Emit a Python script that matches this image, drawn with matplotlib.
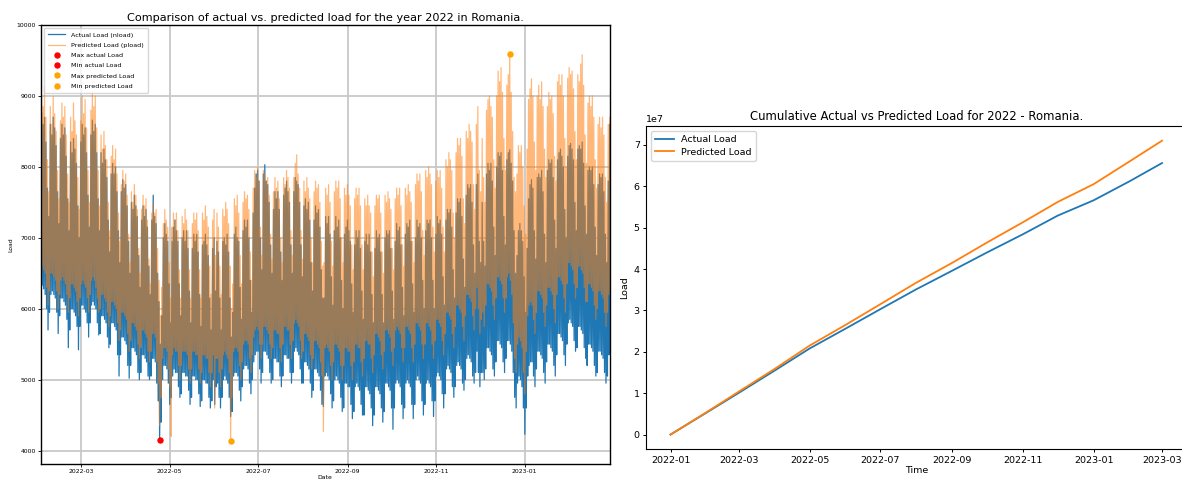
import numpy as np
import pandas as pd
import matplotlib
matplotlib.use("Agg")
import matplotlib.pyplot as plt
import matplotlib.dates as mdates

# Daily night minimum and evening maximum of the hourly load (MW),
# one row per week (Mon..Sun), first row starting on 2022-01-24.
first_day = "2022-01-24"

actual_high = [
    8850, 9050, 8900, 8950, 8650, 7900, 7500,
    8550, 8760, 8600, 8700, 8350, 7700, 7300,
    8600, 8450, 8700, 8550, 8300, 7650, 7200,
    8400, 8600, 8450, 8550, 8150, 7550, 7100,
    8350, 8200, 8400, 8250, 8050, 7450, 7000,
    8350, 8600, 8450, 8550, 8200, 7600, 7150,
    8450, 8660, 8500, 8600, 8200, 7550, 7100,
    8200, 8050, 8250, 8100, 7850, 7250, 6800,
    7900, 8050, 7900, 8000, 7650, 7100, 6650,
    7650, 7820, 7700, 7750, 7450, 6950, 6500,
    7500, 7400, 7600, 7450, 7300, 6750, 6300,
    7250, 7450, 7300, 7400, 7150, 6600, 6200,
    7250, 7600, 7300, 7200, 6500, 6100, 5500,
    5900, 7000, 7200, 7050, 6950, 6350, 5800,
    6950, 7150, 7250, 7100, 6950, 6350, 5900,
    7000, 7100, 6950, 7100, 6850, 6250, 5800,
    6850, 7050, 6950, 7050, 6800, 6200, 5750,
    6900, 6950, 7050, 6900, 6750, 6150, 5700,
    6850, 7000, 6250, 6950, 6800, 6150, 5700,
    6950, 7000, 6900, 7050, 6800, 6150, 5600,
    5950, 7050, 7150, 7000, 6950, 6300, 5850,
    7100, 7250, 7150, 7250, 7000, 6400, 5950,
    7350, 7700, 7900, 7950, 7800, 7000, 6550,
    7900, 8030, 7800, 7750, 7500, 6900, 6500,
    7400, 7650, 7550, 7650, 7400, 6800, 6400,
    7600, 7700, 7800, 7650, 7500, 6900, 6500,
    7650, 7850, 7800, 7750, 7500, 6900, 6450,
    7450, 7550, 7400, 7500, 7250, 6650, 6250,
    7250, 7450, 7350, 7400, 7150, 6550, 6150,
    6150, 7300, 7200, 7300, 7050, 6450, 6050,
    7100, 7300, 7150, 7250, 7000, 6400, 6000,
    7050, 7150, 7250, 7100, 6950, 6350, 5950,
    6900, 7100, 7000, 7100, 6850, 6250, 5850,
    6950, 7050, 6900, 7050, 6800, 6200, 5800,
    6850, 7100, 7000, 7050, 6800, 6200, 5800,
    7000, 7100, 7050, 7100, 6850, 6250, 5850,
    6950, 7200, 7100, 7150, 6900, 6300, 5900,
    7050, 7200, 7150, 7250, 6950, 6350, 5950,
    7000, 7250, 7150, 7200, 7000, 6400, 6000,
    7100, 7250, 7200, 7250, 7000, 6400, 6000,
    7050, 7300, 7200, 7250, 7050, 6450, 6050,
    7250, 7400, 7350, 7400, 7150, 6550, 6150,
    7350, 7550, 7500, 7550, 7300, 6700, 6300,
    7600, 7750, 7700, 7750, 7500, 6900, 6500,
    7750, 7900, 6950, 6650, 7500, 6950, 6600,
    7900, 8050, 7950, 8050, 7800, 7150, 6750,
    8000, 8200, 8150, 8200, 7950, 7300, 6900,
    8100, 8200, 8240, 8050, 7800, 7100, 6500,
    6750, 7100, 7200, 7100, 6950, 6450, 5950,
    6850, 7550, 7750, 7820, 7700, 7100, 6700,
    7850, 7900, 7850, 7950, 7650, 7050, 6650,
    7950, 8100, 8050, 8100, 7850, 7250, 6850,
    8100, 8200, 8250, 8150, 8000, 7400, 7000,
    8150, 8300, 8330, 8250, 8100, 7500, 7100,
    8250, 8300, 8250, 8350, 8050, 7450, 7050,
    7950, 8000, 7950, 8000, 7750, 7150, 6750,
    7750, 7900, 7850, 7900, 7650, 7050, 6650,
    7800, 8600, 7900,
]

actual_low = [
    6150, 6400, 6450, 6400, 6350, 6150, 5800,
    6050, 6300, 6330, 6280, 6200, 6000, 5700,
    5950, 6200, 6250, 6200, 6150, 5950, 5650,
    5900, 6150, 6150, 6100, 6050, 5850, 5450,
    5700, 6000, 6000, 5950, 5900, 5750, 5420,
    5750, 6050, 6050, 6000, 5950, 5800, 5600,
    5800, 6050, 6100, 6050, 6000, 5800, 5630,
    5650, 5900, 5900, 5850, 5800, 5600, 5450,
    5500, 5800, 5800, 5750, 5700, 5350, 5050,
    5350, 5600, 5600, 5550, 5500, 5200, 5020,
    5200, 5450, 5450, 5400, 5350, 5100, 5000,
    5100, 5350, 5350, 5300, 5250, 5050, 5000,
    5050, 5300, 5300, 5250, 4950, 4700, 4150,
    4400, 5000, 5200, 5200, 5150, 4950, 4650,
    4750, 5050, 5150, 5100, 5100, 4900, 4750,
    4800, 5100, 5100, 5050, 5050, 4850, 4650,
    4750, 5050, 5050, 5000, 5000, 4800, 4620,
    4700, 5000, 5000, 4950, 4950, 4750, 4600,
    4700, 5000, 4650, 4900, 4950, 4750, 4600,
    4750, 5000, 5050, 5000, 4950, 4750, 4480,
    4550, 5050, 5100, 5100, 5050, 4850, 4700,
    4900, 5150, 5200, 5200, 5150, 4950, 4800,
    5000, 5250, 5350, 5400, 5400, 5150, 4950,
    5100, 5400, 5400, 5350, 5300, 5100, 4950,
    5000, 5300, 5300, 5250, 5250, 5050, 4900,
    5050, 5350, 5350, 5300, 5300, 5100, 4950,
    5100, 5400, 5450, 5400, 5350, 5150, 4950,
    4950, 5250, 5250, 5200, 5150, 4950, 4750,
    4850, 5150, 5150, 5100, 5050, 4850, 4650,
    4620, 5050, 5100, 5050, 5000, 4800, 4600,
    4700, 5000, 5050, 5000, 4950, 4750, 4550,
    4600, 4950, 4950, 4900, 4900, 4650, 4450,
    4550, 4900, 4950, 4900, 4850, 4650, 4500,
    4500, 4900, 4900, 4850, 4800, 4600, 4350,
    4500, 4900, 4900, 4850, 4800, 4600, 4400,
    4550, 4950, 4950, 4900, 4850, 4600, 4300,
    4600, 4950, 5000, 4950, 4900, 4650, 4450,
    4600, 4950, 5000, 4950, 4900, 4650, 4450,
    4650, 5000, 5050, 5000, 4950, 4700, 4500,
    4650, 4950, 5000, 4950, 4900, 4700, 4480,
    4700, 5050, 5100, 5050, 5000, 4800, 4600,
    4800, 5150, 5200, 5150, 5100, 4900, 4750,
    4900, 5200, 5250, 5200, 5150, 4950, 4850,
    5000, 5300, 5350, 5300, 5250, 5050, 4950,
    5100, 5400, 5100, 4900, 5100, 5100, 5000,
    5150, 5450, 5450, 5400, 5350, 5150, 5050,
    5250, 5550, 5550, 5500, 5450, 5250, 5100,
    5300, 5550, 5550, 5500, 5400, 5100, 4750,
    4600, 4950, 5050, 5000, 4900, 4600, 4230,
    4600, 5050, 5200, 5250, 5250, 5050, 4900,
    5150, 5400, 5400, 5350, 5300, 5100, 4950,
    5250, 5500, 5500, 5450, 5400, 5200, 5050,
    5350, 5650, 5650, 5600, 5550, 5350, 5200,
    5500, 5800, 5850, 5800, 5750, 5550, 5400,
    5450, 5750, 5750, 5700, 5650, 5450, 5300,
    5200, 5500, 5500, 5450, 5400, 5200, 5050,
    5100, 5400, 5400, 5350, 5300, 5100, 4950,
    5050, 5350, 5350,
]

pred_high = [
    9000, 9150, 8950, 9100, 8800, 8200, 7750,
    8800, 9000, 8850, 9120, 8700, 8100, 7650,
    8850, 8600, 8990, 8750, 8500, 7950, 7550,
    8650, 8900, 8700, 8850, 8450, 7900, 7500,
    8700, 8500, 8900, 8650, 8450, 7850, 7400,
    8650, 9000, 8750, 8950, 8550, 7950, 7500,
    8800, 9060, 8850, 9000, 8550, 7950, 7450,
    8450, 8250, 8500, 8300, 8100, 7500, 7100,
    8150, 8300, 8100, 8250, 7900, 7350, 6950,
    7750, 7950, 7800, 7900, 7600, 7050, 6650,
    7650, 7500, 7750, 7600, 7400, 6850, 6500,
    7400, 7600, 7450, 7550, 7250, 6700, 6350,
    7350, 7500, 7350, 7400, 6850, 6400, 5900,
    6300, 7200, 7400, 7250, 7150, 6650, 6150,
    7150, 7350, 7250, 7350, 7100, 6550, 6150,
    7300, 7200, 7400, 7250, 7100, 6550, 6150,
    7200, 7350, 7250, 7350, 7100, 6550, 6150,
    7350, 7250, 7450, 7300, 7150, 6600, 6200,
    7250, 7400, 6750, 7350, 7150, 6600, 6200,
    7400, 7300, 7500, 7400, 7200, 6600, 6000,
    6350, 7550, 7450, 7600, 7350, 6750, 6350,
    7500, 7650, 7550, 7600, 7400, 6800, 6400,
    7700, 7950, 7850, 7990, 7800, 7150, 6750,
    7950, 7900, 7800, 7850, 7600, 7050, 6700,
    7650, 7850, 7700, 7800, 7550, 7000, 6650,
    7850, 7750, 7950, 7850, 7700, 7100, 6750,
    7850, 8050, 8170, 7900, 7700, 7100, 6700,
    7800, 7650, 7850, 7700, 7550, 7000, 6650,
    7650, 7800, 7700, 7750, 7500, 6950, 6600,
    6650, 7700, 7600, 7750, 7500, 6950, 6600,
    7650, 7800, 7700, 7800, 7550, 7000, 6650,
    7700, 7600, 7750, 7600, 7450, 6900, 6550,
    7550, 7700, 7600, 7700, 7450, 6900, 6550,
    7550, 7450, 7600, 7450, 7350, 6800, 6450,
    7450, 7600, 7550, 7600, 7350, 6800, 6500,
    7600, 7500, 7650, 7550, 7400, 6850, 6550,
    7550, 7700, 7600, 7700, 7450, 6900, 6600,
    7700, 7600, 7750, 7650, 7500, 6950, 6650,
    7750, 7900, 7800, 7900, 7650, 7100, 6750,
    7950, 7850, 8000, 7900, 7750, 7150, 6800,
    7800, 7950, 7850, 7950, 7700, 7150, 6800,
    8100, 8000, 8200, 8100, 7950, 7350, 7000,
    8200, 8400, 8300, 8400, 8150, 7550, 7200,
    8500, 8400, 8600, 8500, 8350, 7750, 7400,
    8600, 8850, 7950, 7650, 8400, 7850, 7500,
    8800, 8950, 9000, 8850, 8700, 8100, 7700,
    9000, 9350, 9200, 9400, 9050, 8400, 7950,
    9150, 9300, 9590, 9050, 8500, 7850, 7650,
    7900, 8300, 8200, 8300, 8000, 7450, 7050,
    8250, 8950, 9100, 9240, 9000, 8350, 7950,
    9000, 9150, 8950, 9200, 8850, 8250, 7850,
    8850, 9050, 8950, 9000, 8750, 8150, 7800,
    9200, 9300, 9150, 9300, 9000, 8400, 8000,
    9250, 9400, 9300, 9350, 9100, 8500, 8100,
    9300, 9200, 9450, 9580, 9150, 8450, 8050,
    8900, 9000, 8850, 9000, 8700, 8100, 7700,
    8600, 8700, 8550, 8700, 8450, 7850, 7500,
    8600, 8700, 8650,
]

pred_low = [
    6400, 6650, 6700, 6650, 6600, 6400, 6100,
    6350, 6550, 6600, 6550, 6500, 6300, 6050,
    6250, 6500, 6500, 6450, 6400, 6250, 6000,
    6200, 6400, 6450, 6400, 6350, 6200, 5950,
    6150, 6350, 6350, 6300, 6250, 6100, 5900,
    6150, 6350, 6400, 6350, 6300, 6150, 5950,
    6200, 6400, 6450, 6400, 6300, 6150, 5950,
    6000, 6200, 6200, 6150, 6100, 5950, 5750,
    5900, 6100, 6100, 6050, 6000, 5800, 5550,
    5700, 5950, 5950, 5900, 5850, 5650, 5400,
    5550, 5800, 5800, 5750, 5700, 5500, 5300,
    5450, 5700, 5700, 5650, 5600, 5400, 5250,
    5400, 5650, 5650, 5600, 5250, 4950, 4350,
    4750, 5300, 5450, 5450, 5400, 5150, 4900,
    4200, 5350, 5450, 5400, 5400, 5200, 5000,
    5200, 5400, 5400, 5400, 5350, 5150, 4950,
    5150, 5400, 5400, 5350, 5350, 5150, 4950,
    5100, 5350, 5350, 5300, 5300, 5100, 4900,
    5100, 5350, 4600, 5300, 5300, 5100, 4900,
    5150, 5350, 5400, 5350, 5300, 5100, 4130,
    4750, 5400, 5450, 5450, 5400, 5200, 5000,
    5250, 5500, 5550, 5550, 5500, 5300, 5100,
    5350, 5600, 5700, 5750, 5700, 5500, 5300,
    5500, 5750, 5750, 5700, 5650, 5500, 5300,
    5450, 5700, 5700, 5650, 5650, 5450, 5250,
    5500, 5750, 5750, 5700, 5700, 5500, 5300,
    5550, 5800, 5850, 5800, 5750, 5550, 5300,
    5400, 5650, 5650, 5600, 5550, 5350, 5150,
    5300, 5550, 5550, 5500, 5450, 5250, 5050,
    4270, 5450, 5500, 5450, 5400, 5200, 5000,
    5250, 5500, 5500, 5450, 5400, 5200, 5000,
    5200, 5450, 5450, 5400, 5400, 5200, 5000,
    5250, 5500, 5500, 5450, 5450, 5250, 5050,
    5300, 5550, 5550, 5500, 5500, 5300, 5100,
    5350, 5650, 5650, 5600, 5550, 5350, 5150,
    5400, 5700, 5700, 5650, 5600, 5400, 5200,
    5450, 5700, 5750, 5700, 5650, 5450, 5250,
    5450, 5750, 5750, 5700, 5650, 5450, 5250,
    5500, 5800, 5800, 5750, 5700, 5500, 5300,
    5500, 5800, 5800, 5750, 5700, 5500, 5300,
    5550, 5850, 5850, 5800, 5750, 5550, 5350,
    5650, 5950, 5950, 5900, 5850, 5650, 5450,
    5750, 6050, 6050, 6000, 5950, 5750, 5550,
    5900, 6200, 6200, 6150, 6100, 5900, 5700,
    6000, 6300, 6000, 5650, 5850, 5950, 5750,
    6050, 6350, 6350, 6300, 6250, 6050, 5850,
    6150, 6450, 6450, 6400, 6350, 6150, 5950,
    6150, 6450, 6500, 6400, 6200, 5800, 5300,
    5100, 5500, 5600, 5550, 5450, 5100, 4800,
    5400, 5900, 6050, 6100, 6050, 5850, 5650,
    5950, 6250, 6250, 6200, 6150, 5950, 5750,
    6050, 6300, 6300, 6250, 6200, 6000, 5800,
    6200, 6450, 6450, 6400, 6350, 6150, 5950,
    6350, 6650, 6650, 6600, 6550, 6350, 6150,
    6300, 6600, 6600, 6550, 6500, 6300, 6100,
    6100, 6350, 6350, 6300, 6250, 6050, 5850,
    6000, 6250, 6250, 6200, 6150, 5950, 5750,
    5950, 6200, 6200,
]

# Running totals of the load at the start of each month
cum_dates = ["2022-01-01", "2022-02-01", "2022-03-01", "2022-04-01", "2022-05-01",
             "2022-06-01", "2022-07-01", "2022-08-01", "2022-09-01", "2022-10-01",
             "2022-11-01", "2022-12-01", "2023-01-01", "2023-02-01", "2023-03-01"]
cum_actual = [0.0, 0.53e7, 1.01e7, 1.55e7, 2.08e7, 2.56e7, 3.03e7, 3.51e7,
              3.96e7, 4.40e7, 4.84e7, 5.29e7, 5.66e7, 6.12e7, 6.56e7]
cum_pred = [0.0, 0.54e7, 1.04e7, 1.59e7, 2.15e7, 2.65e7, 3.15e7, 3.67e7,
            4.15e7, 4.64e7, 5.13e7, 5.62e7, 6.05e7, 6.60e7, 7.10e7]

assert len(actual_high) == len(actual_low) == len(pred_high) == len(pred_low)

# Each day is drawn as its night minimum (04:00) followed by its evening peak (18:00)
days = pd.date_range(first_day, periods=len(actual_high), freq="D")
times = np.empty(2 * len(days), dtype="datetime64[ns]")
times[0::2] = (days + pd.Timedelta(hours=4)).values
times[1::2] = (days + pd.Timedelta(hours=18)).values

nload = np.empty(len(times))
nload[0::2] = actual_low
nload[1::2] = actual_high
pload = np.empty(len(times))
pload[0::2] = pred_low
pload[1::2] = pred_high

BLUE = "#1f77b4"
ORANGE = "#ff7f0e"

fig = plt.figure(figsize=(11.82, 4.80), dpi=100)

# ---- left: hourly actual vs predicted load ----
ax1 = fig.add_axes([0.0343, 0.0333, 0.4818, 0.9146])
ax1.plot(times, nload, color=BLUE, lw=0.9, label="Actual Load (nload)")
ax1.plot(times, pload, color=ORANGE, lw=0.9, alpha=0.55, label="Predicted Load (pload)")

i_max_a, i_min_a = np.argmax(nload), np.argmin(nload)
i_max_p, i_min_p = np.argmax(pload), np.argmin(pload)
ms = 3.6
ax1.plot(times[i_max_a], nload[i_max_a], "o", color="red", ms=ms, label="Max actual Load")
ax1.plot(times[i_min_a], nload[i_min_a], "o", color="red", ms=ms, label="Min actual Load")
ax1.plot(times[i_max_p], pload[i_max_p], "o", color="orange", ms=ms, label="Max predicted Load")
ax1.plot(times[i_min_p], pload[i_min_p], "o", color="orange", ms=ms, label="Min predicted Load")

ax1.set_xlim(pd.Timestamp("2022-02-01"), pd.Timestamp("2023-02-28 23:00"))
ax1.set_ylim(3810, 10000)
ax1.xaxis.set_major_locator(mdates.MonthLocator(bymonth=[1, 3, 5, 7, 9, 11]))
ax1.xaxis.set_major_formatter(mdates.DateFormatter("%Y-%m"))
ax1.set_yticks([4000, 5000, 6000, 7000, 8000, 9000, 10000])
ax1.tick_params(labelsize=4.4, length=2, width=0.6, pad=1.5)
ax1.grid(True, color="#c8c8c8", lw=1.3)
ax1.set_title("Comparison of actual vs. predicted load for the year 2022 in Romania.",
              fontsize=8.1, pad=3)
ax1.set_xlabel("Date", fontsize=4.4, labelpad=1)
ax1.set_ylabel("Load", fontsize=4.4, labelpad=2)
for s in ax1.spines.values():
    s.set_linewidth(1.0)
ax1.legend(loc="upper left", fontsize=4.6, handlelength=2.8, borderpad=0.6,
           labelspacing=0.75, handletextpad=0.9)

# ---- right: cumulative load ----
ax2 = fig.add_axes([0.5465, 0.064, 0.4574, 0.6735])
cd = pd.to_datetime(cum_dates)
ax2.plot(cd, cum_actual, color=BLUE, lw=1.3, label="Actual Load")
ax2.plot(cd, cum_pred, color=ORANGE, lw=1.3, label="Predicted Load")
ax2.xaxis.set_major_locator(mdates.MonthLocator(bymonth=[1, 3, 5, 7, 9, 11]))
ax2.xaxis.set_major_formatter(mdates.DateFormatter("%Y-%m"))
ax2.tick_params(labelsize=6.8, length=2.5, width=0.7, pad=2)
ax2.yaxis.get_offset_text().set_fontsize(6.8)
ax2.set_title("Cumulative Actual vs Predicted Load for 2022 - Romania.",
              fontsize=8.4, pad=4, y=1.0)
ax2.set_xlabel("Time", fontsize=6.8, labelpad=1)
ax2.set_ylabel("Load", fontsize=6.8, labelpad=3)
ax2.legend(loc="upper left", fontsize=6.8, handlelength=2.0, borderpad=0.45,
           labelspacing=0.4)

fig.savefig("out.png", dpi=100)
